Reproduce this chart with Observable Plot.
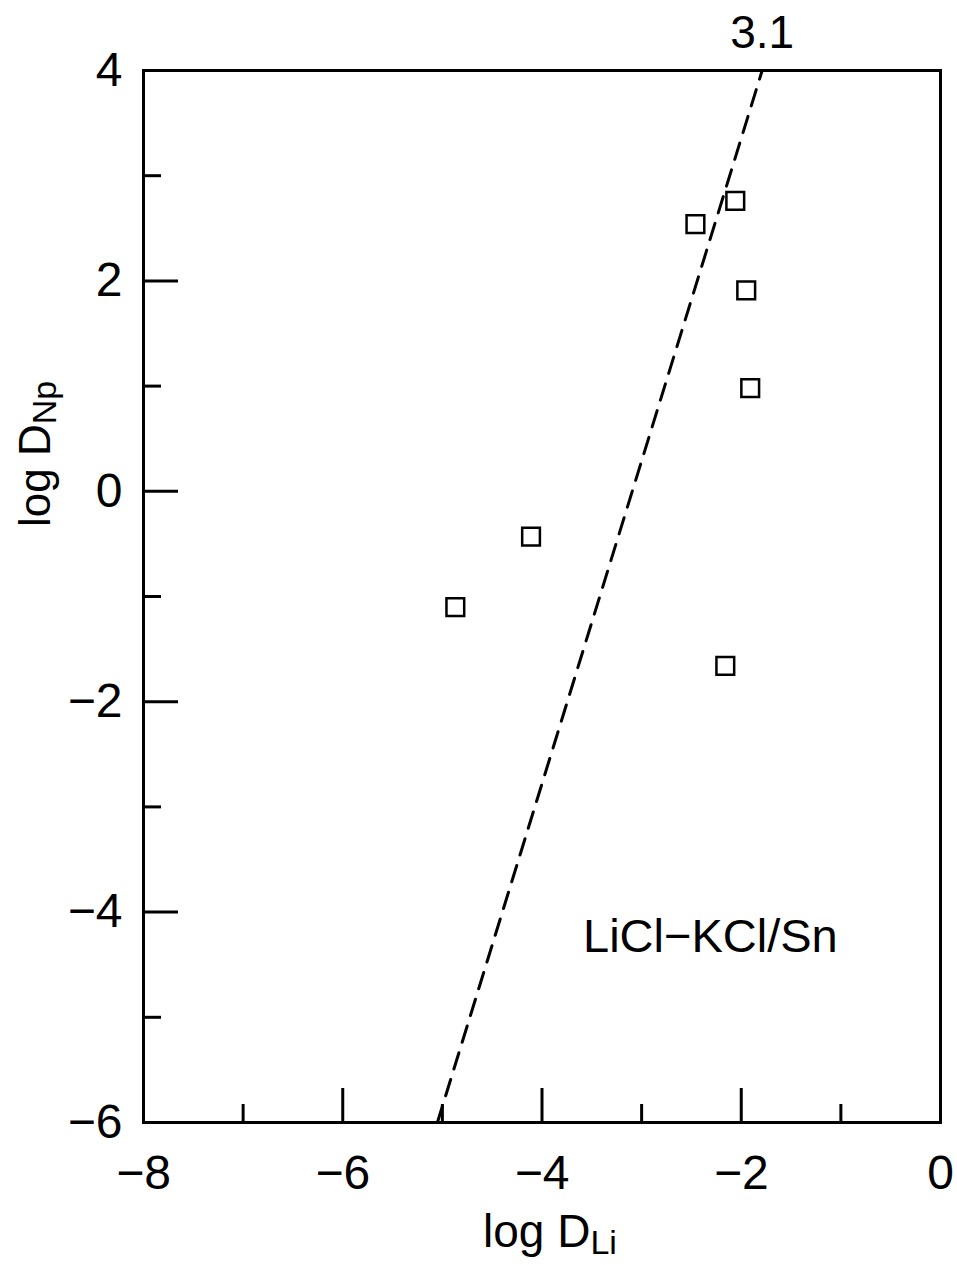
<!DOCTYPE html>
<html><head><meta charset="utf-8">
<script src="https://cdn.jsdelivr.net/npm/d3@7"></script>
<script src="https://cdn.jsdelivr.net/npm/@observablehq/plot@0.6"></script>
<style>body{margin:0;background:#fff}</style>
</head><body><div id="chart"></div>
<script>
// Data
const logDLi = [-4.87, -4.11, -2.46, -2.06, -1.95, -1.91, -2.16];
const logDNp = [-1.10, -0.43, 2.54, 2.76, 1.91, 0.98, -1.66];
const fitX = [-5.05, -1.79];
const fitY = [-6, 4];
const slopeLabel = ["3.1"];
const systemLabel = ["LiCl\u2212KCl/Sn"];
const systemX = [-2.31];
const systemY = [-4.24];
const xMajor = [-8, -6, -4, -2, 0];
const xMinor = [-7, -5, -3, -1];
const yMajor = [-6, -4, -2, 0, 2, 4];
const yMinor = [-5, -3, -1, 1, 3];
const xTitle = ["log D", "Li"];
const yTitle = ["log D", "Np"];

const points = logDLi.map((x, i) => ({x, y: logDNp[i]}));
const fit = fitX.map((x, i) => ({x, y: fitY[i]}));
const fmt = d => d < 0 ? "\u2212" + Math.abs(d) : String(d);

const chart = Plot.plot({
  width: 957,
  height: 1265,
  marginTop: 70,
  marginRight: 17,
  marginBottom: 143,
  marginLeft: 143,
  x: {domain: [-8, 0]},
  y: {domain: [-6, 4]},
  style: {fontFamily: "'Liberation Sans', Arial, sans-serif", fontSize: "46px", background: "white", color: "black"},
  marks: [
    Plot.axisX(xMajor, {tickSize: -34, strokeWidth: 3, strokeOpacity: 1, text: null, label: null}),
    Plot.axisX(xMinor, {tickSize: -18, strokeWidth: 3, strokeOpacity: 1, text: null, label: null}),
    Plot.axisX(xMajor, {tickSize: 0, tickPadding: 32, fontSize: 48, tickFormat: fmt, label: null}),
    Plot.axisY(yMajor, {tickSize: -35, strokeWidth: 3, strokeOpacity: 1, text: null, label: null}),
    Plot.axisY(yMinor, {tickSize: -18, strokeWidth: 3, strokeOpacity: 1, text: null, label: null}),
    Plot.axisY(yMajor, {tickSize: 0, tickPadding: 21, fontSize: 48, tickFormat: fmt, label: null}),
    Plot.frame({stroke: "black", strokeWidth: 3}),
    Plot.line(fit, {x: "x", y: "y", stroke: "black", strokeWidth: 3, strokeDasharray: "17,11"}),
    Plot.dot(points, {x: "x", y: "y", symbol: "square", r: 10, stroke: "black", strokeWidth: 2.5, fill: "white"}),
    Plot.text(slopeLabel, {x: fitX[1], y: fitY[1], text: d => d, dy: -37, fontSize: 46, clip: false}),
    Plot.text(systemLabel, {x: systemX[0], y: systemY[0], text: d => d, fontSize: 47})
  ]
});
document.getElementById("chart").appendChild(chart);

// Axis titles with subscripts
const svg = d3.select(chart);
const font = "'Liberation Sans', Arial, sans-serif";
const xt = svg.append("text")
  .attr("x", 483).attr("y", 1247).attr("text-anchor", "start")
  .attr("font-family", font).attr("font-size", 46).attr("fill", "black");
xt.append("tspan").text(xTitle[0]);
xt.append("tspan").attr("font-size", 34).attr("dy", 7).text(xTitle[1]);

const yt = svg.append("text")
  .attr("transform", "translate(50,527) rotate(-90)").attr("text-anchor", "start")
  .attr("font-family", font).attr("font-size", 44).attr("fill", "black");
yt.append("tspan").text(yTitle[0]);
yt.append("tspan").attr("font-size", 34).attr("dy", 6).text(yTitle[1]);
</script>
</body></html>
